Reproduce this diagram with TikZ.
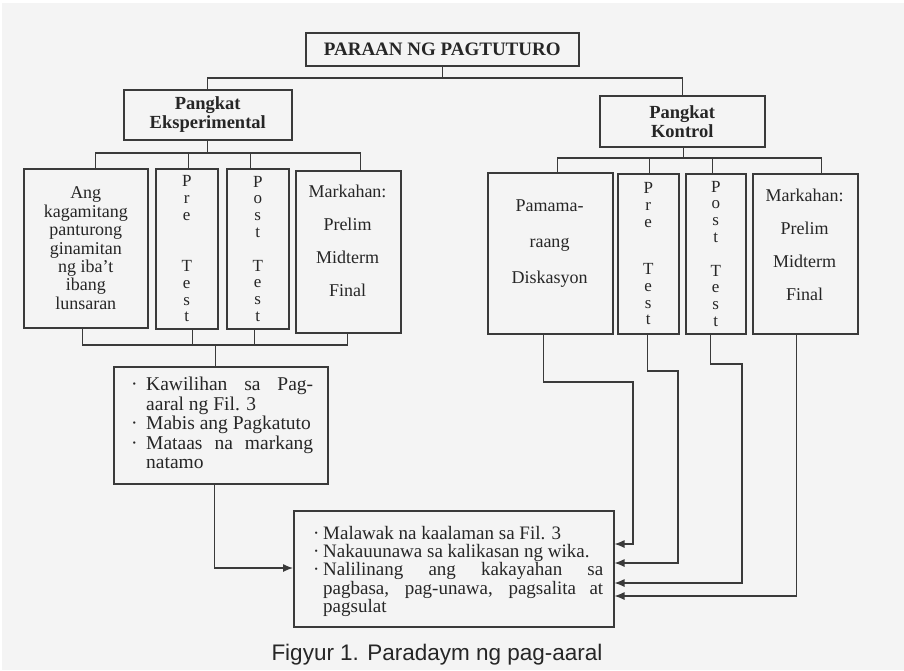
\documentclass[tikz,border=0pt]{standalone}
\usepackage{fontspec}
\setmainfont{Liberation Serif}
\newfontfamily\capfont{Liberation Sans}
\usetikzlibrary{arrows.meta}
\definecolor{bgc}{HTML}{F4F4F4}
\definecolor{linec}{HTML}{3A3A3A}
\definecolor{txtc}{HTML}{262626}
\begin{document}
\begin{tikzpicture}[x=1pt,y=-1pt,
  box/.style={draw=linec, line width=1.5pt, anchor=north west, inner sep=0pt, text=txtc},
  conn/.style={draw=linec, line width=1.2pt},
  arr/.style={conn, -{Latex[length=10pt,width=8pt]}},
  txt/.style={font=\fontsize{18}{18.4}\selectfont, align=center, inner sep=0pt, text=txtc},
  hdr/.style={font=\fontsize{18.5}{19}\selectfont\bfseries, align=center, text=txtc},
  vert/.style={font=\fontsize{17}{16.7}\selectfont, align=center, inner sep=0pt, text=txtc},
  listtxt/.style={align=justify, inner sep=0pt, text=txtc, anchor=north west}]
\useasboundingbox (0,0) rectangle (904,670);
\fill[white] (0,0) rectangle (904,670);
\fill[bgc] (2,3) rectangle (904,670);

% top level
\node[box, minimum width=273pt, minimum height=33pt, font=\fontsize{19}{19}\selectfont\bfseries] (top) at (305,32) {PARAAN NG PAGTUTURO};
\node[box, minimum width=168pt, minimum height=50pt, hdr] (eks) at (123,89) {Pangkat\\Eksperimental};
\node[box, minimum width=165pt, minimum height=51pt, hdr] (kon) at (599,95) {Pangkat\\Kontrol};

\coordinate (tbar) at (0,78);
\draw[conn] (top.south) -- (top.south |- tbar);
\draw[conn] (eks.north) |- (tbar -| kon.north) -- (kon.north);

% left children
\node[box, minimum width=124pt, minimum height=159pt, txt] (L1) at (23,168)
  {Ang\\kagamitang\\panturong\\ginamitan\\ng iba't\\ibang\\lunsaran};
\node[box, minimum width=62pt, minimum height=160pt, vert] (L2) at (155,168)
  {P\\r\\e\\[35pt]T\\e\\s\\t};
\node[box, minimum width=62pt, minimum height=160pt, vert] (L3) at (226,168)
  {P\\o\\s\\t\\[17pt]T\\e\\s\\t};
\node[box, minimum width=105pt, minimum height=162pt] (L4) at (295,170) {};
\node[txt] (L4t) at (347.5,241) {Markahan:\\[14.5pt]Prelim\\[14.5pt]Midterm\\[14.5pt]Final};

\coordinate (lbar) at (0,153);
\draw[conn] (eks.south) -- (eks.south |- lbar);
\draw[conn] ([xshift=10pt]L1.north) |- ([xshift=12.5pt]L4.north |- lbar) -- ([xshift=12.5pt]L4.north);
\draw[conn] ([xshift=2pt]L2.north) -- ([xshift=2pt]L2.north |- lbar);
\draw[conn] ([xshift=-7pt]L3.north) -- ([xshift=-7pt]L3.north |- lbar);

% left result
\node[box, minimum width=214pt, minimum height=117pt] (R1) at (113,366) {};
\node[listtxt, text width=182pt, font=\fontsize{19.5}{19.5}\selectfont] (R1t) at (131,377)
  {\hangindent=15pt\hangafter=1\noindent\makebox[15pt][l]{·}Kawilihan sa Pag-\linebreak aaral ng Fil. 3\par
   \hangindent=15pt\hangafter=1\noindent\makebox[15pt][l]{·}Mabis ang Pagkatuto\par
   \hangindent=15pt\hangafter=1\noindent\makebox[15pt][l]{·}Mataas na markang\linebreak natamo\par};

\coordinate (lbot) at (0,345);
\draw[conn] ([xshift=-3pt]L1.south) |- ([xshift=-0.5pt]L4.south |- lbot) -- ([xshift=-0.5pt]L4.south);
\draw[conn] ([xshift=6pt]L2.south) -- ([xshift=6pt]L2.south |- lbot);
\draw[conn] ([xshift=-3pt]L3.south) -- ([xshift=-3pt]L3.south |- lbot);
\draw[conn] ([xshift=-5pt]R1.north |- lbot) -- ([xshift=-5pt]R1.north);

% right children
\node[box, minimum width=125pt, minimum height=161pt] (K1) at (487,172) {};
\node[txt] (K1t) at (549.5,243.5) {Pamama-\\[18pt]raang\\[18pt]Diskasyon};
\node[box, minimum width=61pt, minimum height=160pt, vert] (K2) at (617,173)
  {P\\r\\e\\[31pt]T\\e\\s\\t};
\node[box, minimum width=60pt, minimum height=160pt, vert] (K3) at (685,173)
  {P\\o\\s\\t\\[17pt]T\\e\\s\\t};
\node[box, minimum width=105pt, minimum height=160pt] (K4) at (752,173) {};
\node[txt] (K4t) at (804.5,244.5) {Markahan:\\[14.5pt]Prelim\\[14.5pt]Midterm\\[14.5pt]Final};

\coordinate (rbar) at (0,158);
\draw[conn] ([xshift=1.5pt]kon.south) -- ([xshift=1.5pt]kon.south |- rbar);
\draw[conn] ([xshift=7.5pt]K1.north) |- ([xshift=16.5pt]K4.north |- rbar) -- ([xshift=16.5pt]K4.north);
\draw[conn] ([xshift=1.5pt]K2.north) -- ([xshift=1.5pt]K2.north |- rbar);
\draw[conn] ([xshift=-3pt]K3.north) -- ([xshift=-3pt]K3.north |- rbar);

% bottom result
\node[box, minimum width=320pt, minimum height=116pt] (B) at (293,510) {};
\node[listtxt, text width=290pt, font=\fontsize{19}{18.3}\selectfont] (Bt) at (313,526)
  {\hangindent=10pt\hangafter=1\noindent\makebox[10pt][l]{·}Malawak na kaalaman sa Fil. 3\par
   \hangindent=10pt\hangafter=1\noindent\makebox[10pt][l]{·}Nakauunawa sa kalikasan ng wika.\par
   \hangindent=10pt\hangafter=1\noindent\makebox[10pt][l]{·}Nalilinang ang kakayahan sa\linebreak pagbasa, pag-unawa, pagsalita at\linebreak pagsulat\par};

% arrows into bottom box
\draw[arr] ([xshift=-6pt]R1.south) |- (B.west |- 0,568);
\draw[arr] ([xshift=-6.5pt]K1.south) |- (633,382) |- (B.east |- 0,544);
\draw[arr] ([xshift=-0.5pt]K2.south) |- (678,371) |- (B.east |- 0,563);
\draw[arr] ([xshift=-5pt]K3.south) |- (742,364) |- (B.east |- 0,583);
\draw[arr] ([xshift=-8.5pt]K4.south) |- (B.east |- 0,596);

% caption
\node[font=\capfont\fontsize{22.5}{24}\selectfont, text=txtc, inner sep=0pt] (cap) at (437,655) {Figyur 1. Paradaym ng pag-aaral};
\end{tikzpicture}
\end{document}
